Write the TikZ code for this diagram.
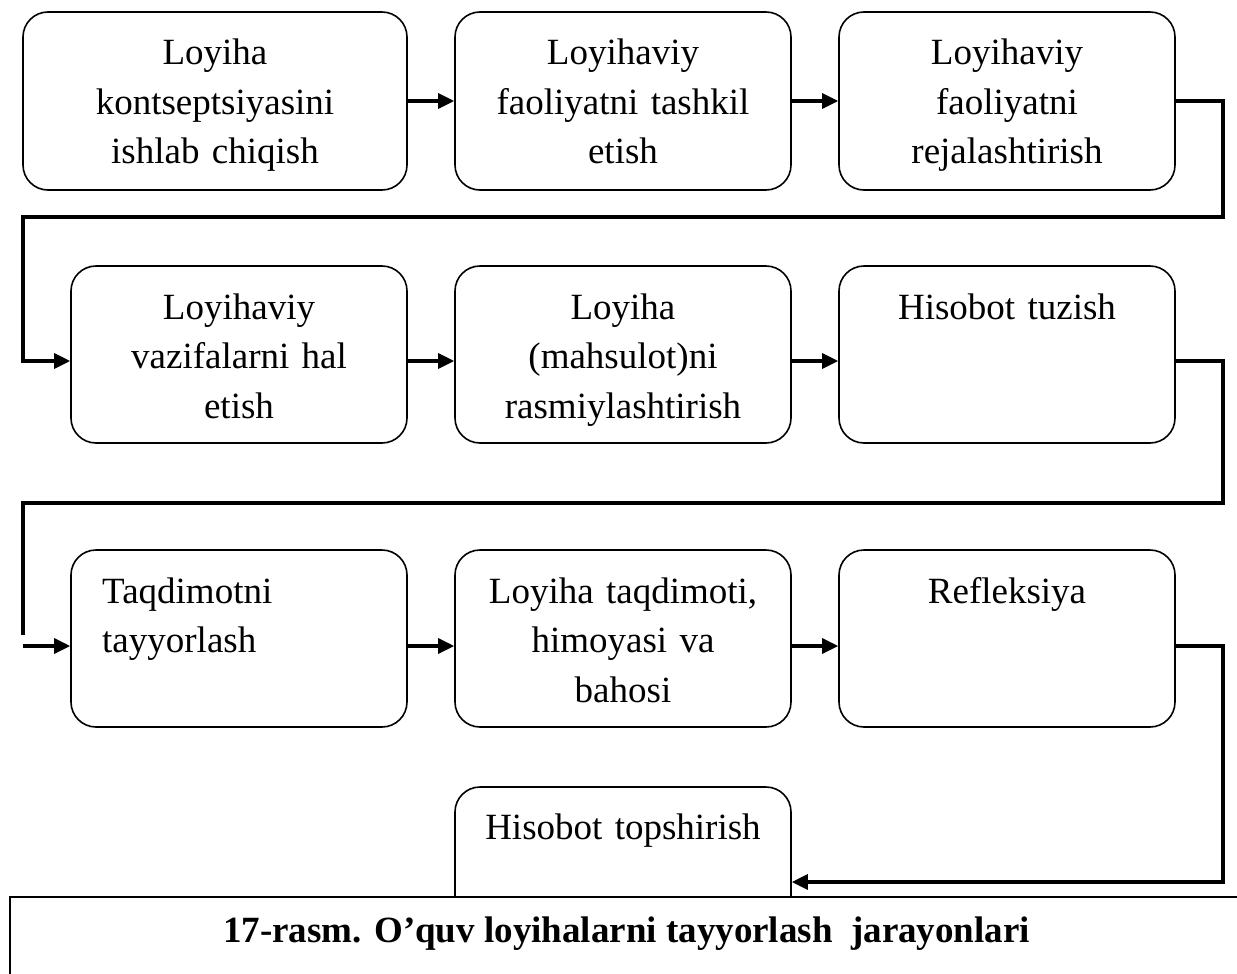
\documentclass[tikz,border=0pt]{standalone}
\usepackage{fontspec}
\setmainfont{Liberation Serif}
\usetikzlibrary{arrows.meta}
\begin{document}
\begin{tikzpicture}[x=1pt,y=-1pt,
  box/.style={draw, line width=1.6pt, rounded corners=25pt, inner sep=0pt, minimum width=336pt, minimum height=177pt},
  txt/.style={inner sep=0pt, anchor=base, text width=330pt, align=center, font=\fontsize{37}{49.5}\selectfont},
  conn/.style={line width=3.2pt, line join=miter},
  arr/.style={conn, -{Triangle[length=16pt,width=15pt]}}]
\useasboundingbox (0,0) rectangle (1237,974);
% boxes
\node[box, minimum width=384pt, minimum height=178pt] (b1) at (215,101) {};
\node[box, minimum height=178pt] (b2) at (623,101) {};
\node[box, minimum height=178pt] (b3) at (1007,101) {};
\node[box] (b4) at (239,354.5) {};
\node[box] (b5) at (623,354.5) {};
\node[box] (b6) at (1007,354.5) {};
\node[box] (b7) at (239,638.5) {};
\node[box] (b8) at (623,638.5) {};
\node[box] (b9) at (1007,638.5) {};
\node[box, minimum height=173pt] (b10) at (623,873.5) {};
% texts
\node[txt, text width=370pt] (t1) at (215,65) {Loyiha\\kontseptsiyasini\\ishlab chiqish};
\node[txt] (t2) at (623,65) {Loyihaviy\\faoliyatni tashkil\\etish};
\node[txt] (t3) at (1007,65) {Loyihaviy\\faoliyatni\\rejalashtirish};
\node[txt] (t4) at (239,319) {Loyihaviy\\vazifalarni hal\\etish};
\node[txt] (t5) at (623,319) {Loyiha\\(mahsulot)ni\\rasmiylashtirish};
\node[txt] (t6) at (1007,319) {Hisobot tuzish};
\node[txt, align=left, anchor=base west, text width=300pt] (t7) at (102,603) {Taqdimotni\\tayyorlash};
\node[txt] (t8) at (623,603) {Loyiha taqdimoti,\\himoyasi va\\bahosi};
\node[txt] (t9) at (1007,603) {Refleksiya};
\node[txt] (t10) at (623,839.5) {Hisobot topshirish};
% helper coordinates
\coordinate (y2) at (0,361);
\coordinate (r1) at (1223,217);
\coordinate (l1) at (23,217);
\coordinate (r2) at (1223,503);
\coordinate (l2) at (23,503);
\coordinate (e2) at (23,635);
\coordinate (s3) at (23,646);
\coordinate (r3) at (1223,882);
% connectors
\draw[arr] (b1.east) -- (b2.west);
\draw[arr] (b2.east) -- (b3.west);
\draw[arr] (b3.east) -| (r1) -- (l1) |- (b4.west |- y2);
\draw[arr] (b4.east |- y2) -- (b5.west |- y2);
\draw[arr] (b5.east |- y2) -- (b6.west |- y2);
\draw[conn] (b6.east |- y2) -| (r2) -- (l2) -- (e2);
\draw[arr] (s3) -- (b7.west |- s3);
\draw[arr] (b7.east |- s3) -- (b8.west |- s3);
\draw[arr] (b8.east |- s3) -- (b9.west |- s3);
\draw[arr] (b9.east |- s3) -| (r3) -- (b10.east |- r3);
% caption
\node[draw, fill=white, line width=1.8pt, inner sep=0pt, anchor=north west, minimum width=1240pt, minimum height=95pt] (capbox) at (9,896) {};
\node[inner sep=0pt, anchor=base west, font=\fontsize{37}{44}\selectfont\bfseries] (cap) at (223,942) {17-rasm. O’quv loyihalarni tayyorlash \ jarayonlari};
\end{tikzpicture}
\end{document}
